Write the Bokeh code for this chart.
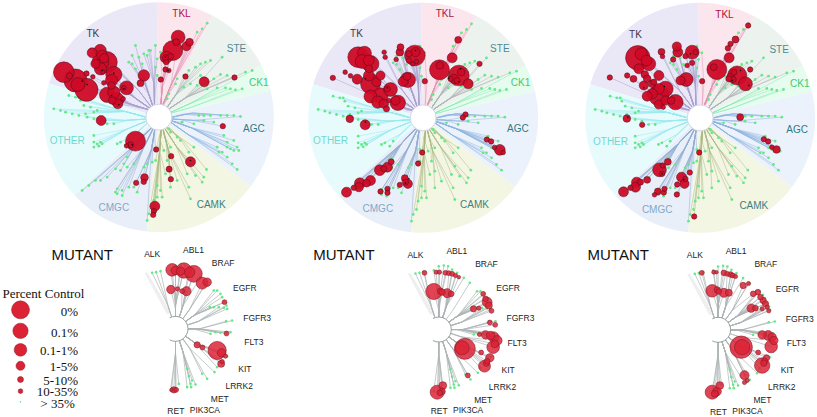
import math
from bokeh.plotting import figure
from bokeh.models import Range1d
from bokeh.core.properties import value
from bokeh.embed import file_html
from bokeh.resources import INLINE

W, H = 817, 417
SCALE = 3.0   # the coordinates below were read on a 3x enlargement

# ---- kinome groups: name, start angle, end angle (degrees), wedge, branch colours
groups = ["AGC", "CK1", "STE", "TKL", "TK", "OTHER", "CMGC", "CAMK"]
group_start = [-37, 13.4, 27, 62, 91, 163, 223, 264]
group_end = [13.4, 27, 62, 91, 163, 223, 264, 323]
group_fill = ["#EBF2FB", "#E6FCEF", "#ECF3EE", "#FCE6EE", "#EAE7F7", "#E7FBFD", "#E9EFF8", "#F3F6E3"]
group_line = ["#8FB4DE", "#86E8B0", "#B0B6B6", "#DD96B4", "#A9A0CE", "#98E8EE", "#94AFD2", "#AAB984"]

# ---- tree tips (same in the three panels), read on panel 1, centre (475, 350)
tips = [
    (620,68),(605,85),(590,95),(575,125),(565,135),(480,155),(470,175),(465,200),(470,225),
    (665,170),(630,180),(615,185),(600,190),(585,200),(565,210),(550,225),(530,235),(525,250),(505,280),(500,295),
    (755,210),(735,215),(700,228),(680,225),(660,222),(640,235),(620,245),(600,225),
    (725,265),(705,268),(690,265),(675,262),(650,262),(620,265),(590,255),(570,250),(550,260),
    (720,348),(700,345),(680,345),(660,345),(630,345),(610,345),(595,345),(610,360),(640,365),(580,370),(545,365),
    (715,450),(710,440),(700,420),(680,425),(670,405),(690,445),(680,440),(700,450),(665,455),(650,440),
    (710,507),(695,490),(680,470),(655,455),
    (618,507),(610,530),(605,545),(585,525),(570,495),(565,455),(580,440),(540,420),(530,410),(510,395),(505,385),(510,440),
    (570,595),(565,560),(560,520),(530,540),(510,560),(510,510),(490,450),(500,480),
    (485,590),(470,590),(460,600),(455,625),(440,660),(445,640),(480,570),(470,555),(495,520),
    (465,480),(465,445),(440,490),(455,485),(430,500),(410,575),(400,560),(385,560),(365,570),(350,565),(345,575),(350,580),(365,585),
    (245,570),(265,555),(285,540),(300,540),(320,530),(345,505),(360,510),(380,470),(370,490),(380,500),(400,490),
    (160,325),(180,330),(195,335),(215,340),(235,345),(260,350),(280,355),(300,360),(320,370),
    (205,285),(225,290),(240,300),(250,315),(270,320),(255,340),(235,290),(280,335),(290,330),(340,370),
    (280,405),(280,425),(290,430),(300,425),(280,440),(295,437),(305,430),(350,430),(360,425),(375,435),(385,420),
    (405,135),(395,165),(395,190),(385,185),(405,205),(465,135),(450,150),(440,165),(430,160),(415,170),(425,190),(445,150),
]

# ---- hits (x, y, radius) on the 3x enlargement of each panel
hits1 = [
    (533,110,18),(527,125,9),(517,150,26),(558,137,12),(567,125,10),(497,170,16),(510,168,8),(495,172,8),(497,185,7),(495,207,7),(505,210,6),(481,237,7),
    (555,228,7),(611,244,13),(702,231,7),(667,377,7),
    (570,484,13),(512,467,7),(506,506,8),(511,536,7),(463,617,13),(460,632,7),(458,643,7),
    (467,447,7),(432,531,10),(430,544,7),(407,547,7),
    (302,360,13),(405,422,26),(390,433,8),(378,436,6),
    (190,215,27),(207,226,8),(225,240,30),(232,252,18),(258,268,30),(258,219,7),(277,229,6),(275,157,13),(299,150,16),(305,165,14),(300,185,22),(318,185,28),(311,173,12),(285,190,12),(300,205,16),(307,215,6),(340,222,21),(333,240,16),(310,247,6),(333,255,10),(378,262,18),(370,262,6),(430,225,15),(420,248,9),(320,283,20),(340,275,16),(350,297,18),(368,295,6),(352,310,13),(335,300,10),
]
hits2 = [
    (503,118,9),(485,172,13),(447,208,26),(448,195,10),(403,242,7),
    (567,190,7),(505,225,27),(512,215,10),(480,235,7),(490,235,12),(533,250,13),(500,240,8),
    (525,342,7),(517,351,7),(589,417,7),(602,423,7),(628,448,14),(612,441,6),(638,456,6),
    (395,456,7),(383,489,7),(302,484,8),(291,500,13),(268,509,14),(280,505,8),(240,540,13),(228,548,10),(208,548,14),(205,560,12),(190,562,7),(168,575,13),(343,533,9),(352,550,12),(345,545,8),(328,553,7),(270,573,7),(291,565,7),(291,577,7),
    (178,355,10),(224,373,13),
    (203,170,27),(222,158,18),(215,183,18),(235,180,14),(240,190,22),(281,155,6),(284,170,6),(317,177,6),(330,140,9),(328,155,10),(373,165,27),(375,155,12),(355,160,8),(355,180,7),(367,190,6),(378,183,6),(164,215,6),(180,226,6),(127,232,7),(200,236,13),(235,205,10),(235,225,14),(240,250,26),(258,245,12),(270,225,12),(350,228,10),(338,243,13),(352,238,20),(300,267,18),(290,265,8),(270,285,20),(240,288,17),(262,305,16),(280,310,12),(288,325,8),(295,300,6),(322,307,20),(315,300,12),
]
hits3 = [
    (593,75,7),(555,117,9),(540,130,7),(532,143,7),(536,172,13),(499,207,26),(490,200,9),(455,242,7),
    (599,207,7),(560,225,25),(550,215,8),(540,230,10),(548,237,8),(585,250,18),(535,235,8),
    (569,350,9),(640,416,7),(653,423,7),(678,447,10),(664,440,6),(431,648,7),
    (446,456,7),(418,516,7),(379,582,7),(380,552,7),(352,484,9),(337,495,7),(327,508,18),(335,520,7),(393,530,13),(402,550,12),(405,535,7),(290,538,9),(270,545,8),(258,545,13),(255,560,13),(240,562,7),(219,574,13),(312,583,6),(322,573,9),(340,576,7),(342,565,7),
    (229,354,10),(275,373,7),
    (262,172,32),(272,160,16),(265,205,13),(288,180,14),(295,190,18),(333,154,9),(336,168,6),(379,138,12),(382,155,13),(368,177,7),(425,155,18),(435,155,7),(410,195,6),(425,187,7),(405,167,7),(390,240,12),(407,237,18),(178,231,7),(230,225,7),(249,235,9),(283,222,10),(325,225,13),(290,235,10),(305,250,10),(280,255,12),(345,265,20),(325,265,14),(290,287,13),(325,285,27),(305,280,14),(338,320,6),(375,305,20),(362,300,10),(325,312,12),(345,300,12),(310,245,8),
]
panel_hits = [hits1, hits2, hits3]
panel_origin = [(0, 0), (290, 0), (550, 0)]
panel_centre = [(475, 350), (398, 352), (449, 352)]

# small black specks seen on some hits
specks1 = [(260,252),(245,242),(340,218),(333,285),(355,313),(370,265),(305,210),(495,170),(503,210),(395,433),(570,480)]
specks2 = [(510,205),(505,243),(475,233),(345,548),(355,535),(225,365),(290,262),(225,235),(375,150)]
specks3 = [(570,210),(545,240),(595,255),(400,537),(335,520),(342,258),(280,262),(232,350),(420,160)]
panel_specks = [specks1, specks2, specks3]

# group labels per panel
group_text = ["TK", "TKL", "STE", "CK1", "AGC", "CAMK", "CMGC", "OTHER"]
group_text_color = ["#3A3A48", "#B0103F", "#4F8796", "#3CCB70", "#2F7A80", "#3F7F7F", "#7FA8C8", "#6FD9D0"]
group_text_pos = [
    [(277,98),(543,40),(708,143),(775,247),(760,384),(632,612),(340,621),(200,420)],
    [(198,100),(463,40),(628,145),(690,247),(682,385),(552,613),(262,623),(120,421)],
    [(255,102),(522,42),(686,147),(748,250),(740,387),(610,615),(320,626),(180,423)],
]

# ---- mutant trees: tips read on panel 1 (enlargement starting at y = 230)
mut_centre = (525, 295)
mut_tips = [
    (455,127),(467,125),(480,122),(510,117),(525,105),(540,103),(553,105),(565,115),(580,125),(600,140),(618,155),
    (640,180),(650,180),(660,190),(665,200),(672,215),(678,225),(680,235),(670,232),(655,230),(640,230),(628,230),
    (695,270),(677,272),(690,305),(678,308),(660,307),(645,305),(630,310),
    (680,377),(665,400),(650,410),(642,425),(620,445),(605,430),
    (585,462),(572,470),(560,470),(575,450),(565,437),(570,460),(560,415),
    (535,460),(525,480),(510,480),
]
mut_hits1 = [
    (515,118,18),(525,120,12),(550,120,22),(540,122,12),(567,125,15),(580,130,24),(605,158,17),(620,155,12),(511,177,12),(531,175,6),(558,182,13),(545,182,7),
    (672,215,7),(678,309,7),(590,343,9),(606,351,7),(650,360,26),(663,367,12),(675,377,6),(662,400,10),(665,393,6),(520,478,9),(527,478,7),(513,478,5),
]
mut_hits2 = [
    (372,127,7),(407,125,6),(417,125,6),(435,127,7),(445,128,7),(455,130,7),(465,135,6),(475,140,5),
    (400,183,23),(420,182,9),(425,185,9),(440,188,13),(452,190,8),
    (548,190,7),(555,205,8),(560,215,14),(565,225,10),(573,241,7),(519,235,9),(535,233,6),(568,276,7),(584,283,7),
    (537,312,6),(555,313,12),(570,315,12),(580,320,15),(590,330,14),(578,350,18),(583,340,11),
    (493,355,30),(485,352,20),(542,366,7),(568,382,12),(560,392,8),(552,407,17),(558,398,9),(502,435,7),
    (427,465,11),(410,485,20),(425,483,9),(418,487,8),
]
mut_hits3 = [
    (1204,127,7),(1240,125,6),(1248,125,5),(1270,127,8),(1280,130,7),(1290,132,8),(1297,135,7),(1305,138,6),
    (1235,181,18),(1250,178,9),(1255,183,8),(1270,187,13),(1285,187,10),(1328,165,9),(1344,159,6),
    (1358,190,8),(1372,185,8),(1380,200,8),(1388,210,9),(1395,220,9),(1400,230,6),(1405,241,6),(1352,233,12),(1365,233,8),(1385,235,6),
    (1385,313,12),(1403,315,14),(1415,320,12),(1420,330,12),(1412,348,18),
    (1322,350,32),(1325,350,22),(1373,366,7),(1398,382,9),(1392,392,9),(1385,405,22),(1390,398,9),
    (1332,434,13),(1340,450,6),(1332,456,6),(1258,465,11),(1235,485,20),(1250,483,12),(1243,490,10),
]
mut_hits = [mut_hits1, mut_hits2, mut_hits3]
mut_hit_origin = [(0, 230), (300, 230), (300, 230)]
mut_shift = [(0.0, 0.0), (263.3, 0.7), (542.6, 1.0)]
mut_labels = ["ALK", "ABL1", "BRAF", "EGFR", "FGFR3", "FLT3", "KIT", "LRRK2", "MET", "PIK3CA", "RET"]
mut_label_pos = [(455,70),(579,59),(668,97),(733,171),(770,261),(760,335),(733,415),(716,467),(658,505),(613,537),(526,540)]
mut_title_x = [51, 312.7, 587]

# ---- legend
legend_labels = ["0%", "0.1%", "0.1-1%", "1-5%", "5-10%", "10-35%", ">  35%"]
legend_sizes = [27, 23, 19, 13.5, 9, 7, 2.5]
legend_circle_y = [238, 301, 358, 406, 447, 482, 514]
legend_text_y = [243, 305, 360, 408, 450, 484, 518]

R_OUT, R_HUB = 115.0, 13.0
R_MUT = 12.5
TOP_GROW = 1.15
HIT_TOP, HIT_TOP_LINE = "#CF0A26", "#4A0E1A"
HIT_MUT, HIT_MUT_LINE = "#DC2336", "#8A1A28"
TIP = "#66E888"


def py(v):
    return H - v


p = figure(width=W, height=H, x_range=Range1d(0, W), y_range=Range1d(0, H),
           x_axis_location=None, y_axis_location=None, output_backend="svg",
           toolbar_location=None, min_border=0, outline_line_color=None)
p.grid.visible = False


def group_of(deg):
    d = (deg + 37) % 360 - 37
    for i in range(len(groups)):
        if group_start[i] <= d < group_end[i]:
            return i, d
    return 0, d


def branches(cx, cy, pts):
    """Leaf -> shared elbow of its sub-sector -> hub, so that trunks merge as in a tree."""
    xs, ys, cols = [], [], []
    for dx, dy in pts:
        r = math.hypot(dx, dy)
        g, d = group_of(math.degrees(math.atan2(dy, dx)))
        s, e = group_start[g], group_end[g]
        nb = max(2, round((e - s) / 14))
        b = min(nb - 1, int((d - s) / (e - s) * nb))
        a_bin = s + (b + 0.5) * (e - s) / nb
        mid = (s + e) / 2
        a_hub = math.radians(mid + 0.6 * (a_bin - mid))
        re1 = min(r * 0.6, 34.0)
        a_el = math.radians(a_bin)
        a_tip = math.radians(d)
        xs.append([cx + R_HUB * math.cos(a_hub), cx + re1 * math.cos(a_el), cx + r * math.cos(a_tip)])
        ys.append([cy + R_HUB * math.sin(a_hub), cy + re1 * math.sin(a_el), cy + r * math.sin(a_tip)])
        cols.append(group_line[g])
    return xs, ys, cols


# upper panels
tip_rel = [((x - 475) / SCALE, (350 - y) / SCALE) for x, y in tips]
for n in range(3):
    ox, oy = panel_origin[n]
    zx, zy = panel_centre[n]
    cx, cy = ox + zx / SCALE, py(oy + zy / SCALE)
    p.wedge(x=[cx] * 8, y=[cy] * 8, radius=R_OUT,
            start_angle=[math.radians(a) for a in group_start],
            end_angle=[math.radians(a) for a in group_end],
            fill_color=group_fill, line_color=None)
    hit_rel = [((x - zx) / SCALE, (zy - y) / SCALE) for x, y, _ in panel_hits[n]]
    xs, ys, cols = branches(cx, cy, tip_rel + hit_rel)
    p.multi_line(xs, ys, line_color=cols, line_width=0.5)
    p.scatter([cx + a for a, _ in tip_rel], [cy + b for _, b in tip_rel],
              size=2.8, fill_color=TIP, line_color=None)
    hs = sorted(panel_hits[n], key=lambda t: -t[2])
    p.scatter([ox + h[0] / SCALE for h in hs], [py(oy + h[1] / SCALE) for h in hs],
              size=[2 * TOP_GROW * h[2] / SCALE for h in hs], fill_color=HIT_TOP, fill_alpha=0.95,
              line_color=HIT_TOP_LINE, line_width=0.5)
    p.scatter([ox + s[0] / SCALE for s in panel_specks[n]], [py(oy + s[1] / SCALE) for s in panel_specks[n]],
              size=1.6, fill_color="#111111", line_color=None)
    p.circle([cx], [cy], radius=R_HUB, fill_color="white", line_color="#D4D6E4", line_width=1)
    p.text([ox + t[0] / SCALE for t in group_text_pos[n]], [py(oy + t[1] / SCALE) for t in group_text_pos[n]],
           text=group_text, text_color=group_text_color, text_font=value("Liberation Sans"),
           text_font_size="10px", text_align="center", text_baseline="middle")

# lower panels
for n in range(3):
    sx, sy = mut_shift[n]
    cx, cy = mut_centre[0] / SCALE + sx, py(230 + mut_centre[1] / SCALE + sy)
    p.patch([cx - 28, cx - 4, cx - 9, cx - 31], [cy + 56, cy + 15, cy + 15, cy + 56],
            fill_color="#EFEFEF", line_color=None)
    ox, oy = mut_hit_origin[n]
    hs = sorted(mut_hits[n], key=lambda t: -t[2])
    pts = [(x / SCALE + sx, py(230 + y / SCALE + sy)) for x, y in mut_tips]
    xs, ys = [], []
    for x, y in pts + [(ox + h[0] / SCALE, py(oy + h[1] / SCALE)) for h in hs]:
        a = math.degrees(math.atan2(y - cy, x - cx))
        rr = math.hypot(x - cx, y - cy)
        a_bin = math.radians((round(a / 18) * 18))
        re1 = min(rr * 0.5, 24.0)
        xs.append([cx + R_MUT * math.cos(a_bin), cx + re1 * math.cos(a_bin), x])
        ys.append([cy + R_MUT * math.sin(a_bin), cy + re1 * math.sin(a_bin), y])
    p.multi_line(xs, ys, line_color="#AEB5B5", line_width=0.7)
    p.arc(x=[cx], y=[cy], radius=R_MUT, start_angle=math.radians(-118), end_angle=math.radians(118),
          line_color="#9AA2A2", line_width=1)
    p.scatter([a for a, _ in pts], [b for _, b in pts], size=2.6, fill_color=TIP, line_color=None)
    p.scatter([ox + h[0] / SCALE for h in hs], [py(oy + h[1] / SCALE) for h in hs],
              size=[2.1 * h[2] / SCALE for h in hs], fill_color=HIT_MUT, fill_alpha=0.85,
              line_color=HIT_MUT_LINE, line_width=0.6)
    p.text([t[0] / SCALE + sx for t in mut_label_pos], [py(230 + t[1] / SCALE + sy) for t in mut_label_pos],
           text=mut_labels, text_color="#222222", text_font=value("Liberation Sans"),
           text_font_size="8.5px", text_align="center", text_baseline="middle")
    p.text([mut_title_x[n]], [py(254)], text=["MUTANT"], text_color="#111111",
           text_font=value("Liberation Sans"), text_font_size="15px",
           text_align="left", text_baseline="middle")

# legend
p.text([2], [py(293)], text=["Percent Control"], text_color="#111111",
       text_font=value("Liberation Serif"), text_font_size="13px",
       text_align="left", text_baseline="middle")
p.scatter([20] * 7, [py(230 + v / SCALE) for v in legend_circle_y],
          size=[2 * s / SCALE for s in legend_sizes],
          fill_color=[HIT_MUT] * 6 + [TIP], line_color=[HIT_MUT_LINE] * 6 + [None], line_width=0.5)
p.text([77.5] * 7, [py(230 + v / SCALE) for v in legend_text_y], text=legend_labels,
       text_color="#111111", text_font=value("Liberation Serif"), text_font_size="13px",
       text_align="right", text_baseline="middle")

open("out.html", "w").write(file_html(p, INLINE))
